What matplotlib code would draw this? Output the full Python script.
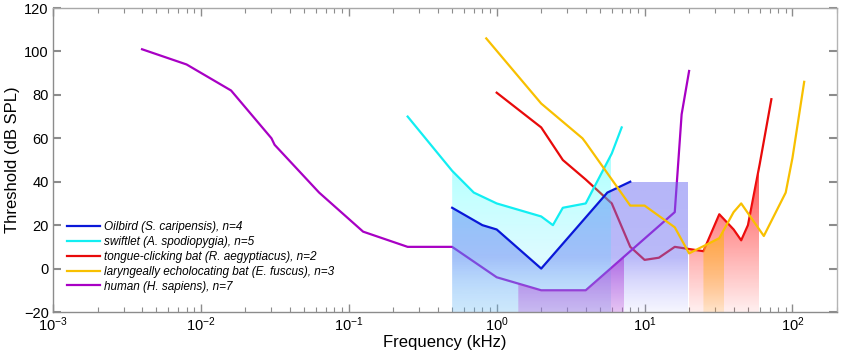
import numpy as np
import matplotlib
matplotlib.use("Agg")
import matplotlib.pyplot as plt
from matplotlib.patches import PathPatch
from matplotlib.path import Path

plt.rcParams['font.family'] = ['Liberation Sans', 'DejaVu Sans']
plt.rcParams['mathtext.default'] = 'regular'

# ---------------- data (frequency in kHz, threshold in dB SPL) ----------------
oil_f = [0.5, 0.8, 1.0, 2.0, 5.6, 8.0]
oil_t = [28, 20, 18, 0, 35, 40]

swift_f = [0.25, 0.5, 0.7, 1.0, 2.0, 2.4, 2.8, 4.0, 6.0, 7.0]
swift_t = [70, 45, 35, 30, 24, 20, 28, 30, 53, 65]

rbat_f = [1.0, 2.0, 2.8, 4.0, 6.0, 8.0, 10.0, 12.5, 16.0, 20.0, 25.0, 32.0, 40.0, 45.0, 50.0, 60.0, 72.0]
rbat_t = [81, 65, 50, 41, 30, 10, 4, 5, 10, 9, 8, 25, 18, 13, 20, 48, 78]

ebat_f = [0.85, 2.0, 3.8, 4.0, 8.0, 10.0, 16.0, 20.0, 32.0, 40.0, 45.0, 64.0, 90.0, 100.0, 120.0]
ebat_t = [106, 76, 60, 58, 29, 29, 19, 7, 14, 26, 30, 15, 35, 51, 86]

hum_f = [0.004, 0.008, 0.016, 0.03, 0.0315, 0.063, 0.125, 0.25, 0.5, 1.0, 2.0, 4.0, 16.0, 17.8, 20.0]
hum_t = [101, 94, 82, 60, 57, 35, 17, 10, 10, -4, -10, -10, 26, 71, 91]

labels = ['Oilbird (S. caripensis), n=4',
          'swiftlet (A. spodiopygia), n=5',
          'tongue-clicking bat (R. aegyptiacus), n=2',
          'laryngeally echolocating bat (E. fuscus), n=3',
          'human (H. sapiens), n=7']

# shaded ranges (kHz)
oil_band = (0.5, 20.0)
swift_band = (0.5, 6.0)
hum_band = (1.4, 7.4)
rbat_band = (20.0, 60.0)
ebat_band = (25.0, 35.0)

c_oil = '#0a18d8'
c_swift = '#12eef2'
c_rbat = '#e80a0a'
c_ebat = '#f8c000'
c_hum = '#a800c4'

YMIN, YMAX = -20, 120

fig = plt.figure(figsize=(8.43, 3.58), dpi=100)
ax = fig.add_axes([53/843, 1-312/358, 784/843, 304/358])
ax.set_xscale('log')


def curve_segment(f, t, lo, hi):
    f = np.asarray(f, float); t = np.asarray(t, float)
    lf = np.log10(f)
    inner = (f > lo) & (f < hi)
    xs = np.concatenate([[lo], f[inner], [hi]])
    ys = np.interp(np.log10(xs), lf, t)
    return xs, ys


def gradient_fill(xs, ys, stops, z):
    xs = list(xs); ys = list(ys)
    verts = [(xs[0], YMIN)] + list(zip(xs, ys)) + [(xs[-1], YMIN), (xs[0], YMIN)]
    patch = PathPatch(Path(verts), facecolor='none', edgecolor='none',
                      transform=ax.transData)
    ax.add_patch(patch)
    ytop = max(ys)
    yy = np.linspace(YMIN, ytop, 300)
    sy = [s[0] for s in stops]
    img = np.zeros((300, 1, 4))
    for k in range(4):
        img[:, 0, k] = np.interp(yy, sy, [s[1][k] for s in stops])
    im = ax.imshow(img, extent=[xs[0], xs[-1], YMIN, ytop], origin='lower',
                   aspect='auto', interpolation='bilinear', zorder=z)
    im.set_clip_path(patch)


# oilbird fill: curve then plateau at its last value
xo, yo = curve_segment(oil_f, oil_t, oil_band[0], oil_f[-1])
xo = np.append(xo, oil_band[1]); yo = np.append(yo, oil_t[-1])
gradient_fill(xo, yo, [(-20, (0.62, 0.62, 1.0, 0.10)), (5, (0.42, 0.42, 0.95, 0.47)),
                       (60, (0.42, 0.42, 0.95, 0.52))], 2.0)

xs_, ys_ = curve_segment(swift_f, swift_t, *swift_band)
gradient_fill(xs_, ys_, [(-20, (0.3, 0.75, 0.95, 0.24)), (5, (0.1, 0.9, 1.0, 0.15)),
                         (30, (0.0, 1.0, 1.0, 0.22)), (60, (0.0, 1.0, 1.0, 0.36))], 2.1)

xh, yh = curve_segment(hum_f, hum_t, *hum_band)
gradient_fill(xh, yh, [(-20, (0.75, 0.3, 0.85, 0.3)), (10, (0.62, 0.1, 0.82, 0.55))], 2.2)

xr, yr = curve_segment(rbat_f, rbat_t, *rbat_band)
gradient_fill(xr, yr, [(-20, (1.0, 0.1, 0.1, 0.07)), (50, (1.0, 0.1, 0.1, 0.8))], 2.3)

xe, ye = curve_segment(ebat_f, ebat_t, *ebat_band)
gradient_fill(xe, ye, [(-20, (1.0, 0.72, 0.2, 0.2)), (15, (1.0, 0.68, 0.15, 0.72))], 2.4)

lw = 1.6
l_oil, = ax.plot(oil_f, oil_t, color=c_oil, lw=lw, zorder=3)
l_swift, = ax.plot(swift_f, swift_t, color=c_swift, lw=lw, zorder=3)
l_rbat, = ax.plot(rbat_f, rbat_t, color=c_rbat, lw=lw, zorder=1.5)
l_ebat, = ax.plot(ebat_f, ebat_t, color=c_ebat, lw=lw, zorder=3)
l_hum, = ax.plot(hum_f, hum_t, color=c_hum, lw=lw, zorder=1.5)

ax.set_xlim(1e-3, 200)
ax.set_ylim(YMIN, YMAX)
ax.set_yticks(np.arange(-20, 121, 20))

spine_c = '#8c8c8c'
for s in ax.spines.values():
    s.set_color(spine_c)
    s.set_linewidth(1.0)
ax.spines['right'].set_color('#b4b4b4')
ax.spines['top'].set_color('#a8a8a8')
ax.tick_params(which='both', direction='in', top=True, right=True, colors=spine_c,
               labelcolor='black', labelsize=10.5, pad=3)
ax.tick_params(axis='x', which='both', pad=2.5)
ax.tick_params(which='major', length=6, width=1.0)
ax.tick_params(which='minor', length=3.5, width=0.8)
ax.tick_params(axis='y', which='major', length=6, width=1.5)

ax.set_xlabel('Frequency (kHz)', fontsize=12, labelpad=0.5)
ax.set_ylabel('Threshold (dB SPL)', fontsize=12, labelpad=3)

leg = ax.legend([l_oil, l_swift, l_rbat, l_ebat, l_hum], labels, loc='upper left',
                bbox_to_anchor=(0.018, 0.3), frameon=False, borderpad=0,
                borderaxespad=0, handlelength=2.8, handletextpad=0.35,
                labelspacing=0.25, prop={'style': 'italic', 'size': 8.5})
leg.set_zorder(5)

fig.savefig('out.png', dpi=100)
